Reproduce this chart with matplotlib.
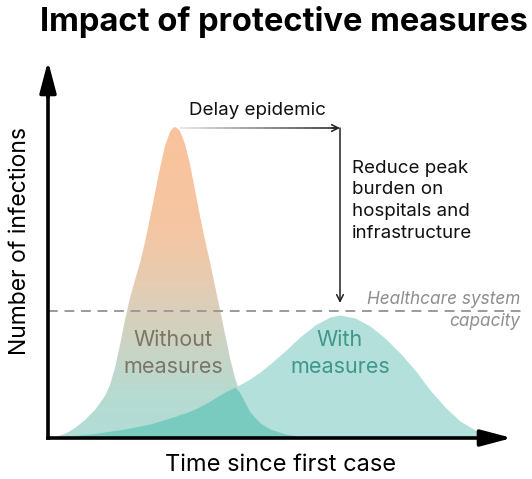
import numpy as np
import matplotlib
matplotlib.use("Agg")
from matplotlib import pyplot as plt
from matplotlib.colors import LinearSegmentedColormap
from matplotlib.collections import LineCollection
from matplotlib.patches import Polygon

plt.rcParams['font.family'] = ['Inter', 'DejaVu Sans']

# time since first case (arbitrary units) and number of infections for both scenarios
time = [0, 7, 17, 27, 37, 47, 57, 62, 67, 72, 77, 82, 87, 92, 97, 102, 107, 112, 117,
        122, 125, 127, 129, 132, 137, 142, 147, 152, 157, 162, 167, 172, 177, 182,
        187, 192, 202, 212, 222, 237, 252, 267, 282, 292, 307, 322, 337, 352, 367,
        382, 397, 412, 427, 442, 452]
without_measures = [0, 1, 4, 10, 18, 28, 42, 53, 70, 93, 118, 140, 158, 175, 196, 220,
                    245, 270, 292, 306, 310, 311, 310, 307, 294, 274, 248, 222, 198,
                    176, 152, 128, 104, 80, 60, 45, 26, 15, 9, 4, 1.5, 0, 0, 0, 0, 0,
                    0, 0, 0, 0, 0, 0, 0, 0, 0]
with_measures = [0, 1, 1.5, 2.5, 3.5, 4.5, 6, 6.8, 7.5, 8.3, 9, 10, 11, 12, 13, 14,
                 15.5, 17, 18.5, 20, 21, 21.5, 22.3, 23.5, 25, 27, 29, 31.5, 34, 37,
                 40, 43, 46, 48.5, 51, 53.5, 59, 66, 74, 87, 101, 113, 121, 123, 120,
                 112, 100, 85, 68, 48, 31, 17, 8, 3, 0]
capacity = 127

time = np.array(time, dtype=float)
without_measures = np.array(without_measures, dtype=float)
with_measures = np.array(with_measures, dtype=float)

fig = plt.figure(figsize=(5.32, 4.79), dpi=100)
ax = fig.add_axes([0, 0, 1, 1])
ax.set_xlim(-48, 484)
ax.set_ylim(-41, 438)
ax.axis('off')

# curve with measures
ax.fill_between(time, 0, with_measures, color='#b3e0da', lw=0, zorder=1)

# curve without measures, coloured with a vertical gradient
cmap = LinearSegmentedColormap.from_list('peak', [
    (0.0, '#b1ddd6'), (0.15, '#b8dad1'), (0.33, '#cfd2c1'),
    (0.5, '#e6ccb2'), (0.68, '#f5c6a3'), (1.0, '#f9c39c')])
shape = Polygon(np.column_stack([time, without_measures]), closed=True,
                facecolor='none', edgecolor='none')
ax.add_patch(shape)
grad = np.linspace(0, 1, 256).reshape(-1, 1)
im = ax.imshow(grad, cmap=cmap, origin='lower', aspect='auto',
               extent=[time.min(), time.max(), 0, without_measures.max()], zorder=2)
im.set_clip_path(shape)

# overlap of both curves
ax.fill_between(time, 0, np.minimum(without_measures, with_measures),
                color='#79cbbf', lw=0, zorder=3)

# healthcare system capacity
ax.plot([0, 477], [capacity, capacity], ls=(0, (5, 3.5)), color='#9a9a9a', lw=1.4, zorder=4)
ax.text(472, capacity + 11, 'Healthcare system', ha='right', va='center',
        style='italic', color='#8e8e8e', fontsize=12.4, zorder=6)
ax.text(472, capacity - 11, 'capacity', ha='right', va='center',
        style='italic', color='#8e8e8e', fontsize=12.4, zorder=6)

# axes with arrows
ax.plot([0, 440], [0, 0], color='black', lw=2.6, solid_capstyle='projecting', zorder=5)
ax.plot([0, 0], [0, 352], color='black', lw=2.6, solid_capstyle='projecting', zorder=5)
head = dict(arrowstyle='-|>,head_length=1.9,head_width=0.5', color='black',
            lw=2.6, mutation_scale=10, shrinkA=0, shrinkB=0)
ax.annotate('', xy=(464, 0), xytext=(430, 0), arrowprops=head, zorder=5)
ax.annotate('', xy=(0, 377), xytext=(0, 340), arrowprops=head, zorder=5)

# delay arrow (fades in from the peak)
peak_t = time[np.argmax(without_measures)]
peak_w = time[np.argmax(with_measures)]
top = without_measures.max() - 1
xs = np.linspace(peak_t + 5, peak_w - 4, 40)
segs = [[(xs[i], top), (xs[i + 1], top)] for i in range(len(xs) - 1)]
cols = plt.cm.gray_r(np.linspace(0.12, 0.9, len(segs)))
ax.add_collection(LineCollection(segs, colors=cols, lw=1.1, zorder=5))
ax.annotate('', xy=(peak_w, top), xytext=(peak_w - 8, top),
            arrowprops=dict(arrowstyle='->', color='#222222', lw=1.1,
                            mutation_scale=12, shrinkA=0, shrinkB=0), zorder=5)
ax.text(209, 328, 'Delay epidemic', ha='center', va='center',
        fontsize=13.5, color='#111111')

# reduce peak arrow
ax.annotate('', xy=(peak_w, capacity + 8), xytext=(peak_w, top),
            arrowprops=dict(arrowstyle='->', color='#222222', lw=1.1,
                            mutation_scale=12, shrinkA=0, shrinkB=0), zorder=5)
for h, line in zip([270, 248, 226, 205],
                   ['Reduce peak', 'burden on', 'hospitals and', 'infrastructure']):
    ax.text(304, h, line, ha='left', va='center', fontsize=13.5, color='#111111')

# curve labels
ax.text(125, 98, 'Without', ha='center', va='center', fontsize=15.5, color='#7b7565', zorder=6)
ax.text(125, 71, 'measures', ha='center', va='center', fontsize=15.5, color='#7b7565', zorder=6)
ax.text(peak_w, 98, 'With', ha='center', va='center', fontsize=15.5, color='#3e978a', zorder=6)
ax.text(peak_w, 71, 'measures', ha='center', va='center', fontsize=15.5, color='#3e978a', zorder=6)

# axis titles and chart title
ax.text(233, -27, 'Time since first case', ha='center', va='center', fontsize=17)
ax.text(-28, 197, 'Number of infections', ha='center', va='center', rotation=90, fontsize=16.5)
fig.text(284 / 532, 1 - 22 / 479, 'Impact of protective measures', ha='center', va='center',
         fontsize=23.5, fontweight='bold')

fig.savefig('out.png', dpi=100)
